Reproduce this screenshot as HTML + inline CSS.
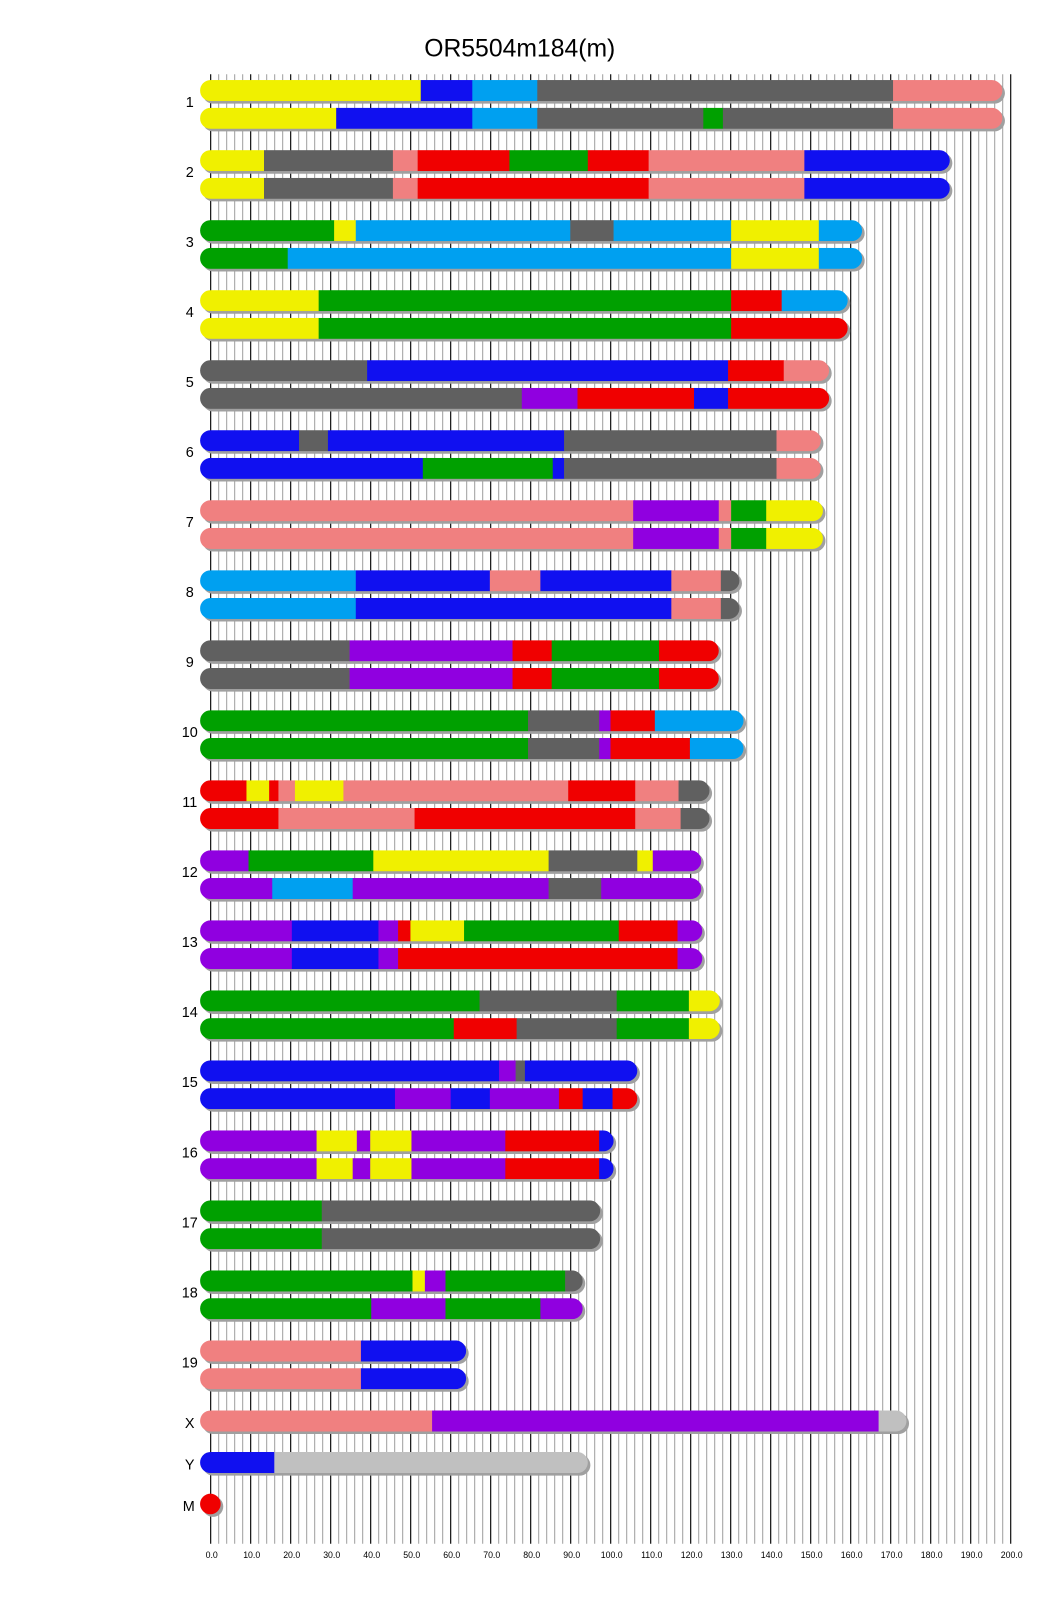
<!DOCTYPE html>
<html><head><meta charset="utf-8"><style>
html,body{margin:0;padding:0;background:#fff;}
svg{display:block;}
text{font-family:"Liberation Sans",sans-serif;}
</style></head><body>
<svg id="s" width="1040" height="1616" viewBox="0 0 1008.5 1567" xmlns="http://www.w3.org/2000/svg">
<rect width="1008.5" height="1567" fill="#fff"/>
<text x="504" y="55" font-size="24" text-anchor="middle" fill="#000">OR5504m184(m)</text>
<g id="grid"></g>
<g id="bars"></g>
</svg>
<script>
var NS="http://www.w3.org/2000/svg";
var C={Y:"#f0f000",B:"#1010f0",L:"#00a0f0",G:"#606060",S:"#f08080",N:"#00a000",R:"#f00000",P:"#9000e0",W:"#c0c0c0"};
function el(t,a,p){var e=document.createElementNS(NS,t);for(var k in a)e.setAttribute(k,a[k]);if(p)p.appendChild(e);return e;}
var grid=document.getElementById("grid"),bars=document.getElementById("bars"),svg=document.getElementById("s");
var x0=204.3,u=3.879;
for(var i=0;i<=100;i++){var x=x0+i*u*2;var major=i%5==0;
 el("line",{x1:x,x2:x,y1:72,y2:1497,stroke:major?"#000":"#a0a0a0","stroke-width":major?1.1:1},grid);
 if(major){var t=el("text",{x:x+1,y:1511,"font-size":8.5,"text-anchor":"middle",fill:"#000"},grid);t.textContent=(i*2).toFixed(1);}
}
var defs=el("defs",{},svg);
var data=[
["1",972,[["Y",408],["B",458],["L",521],["G",866],["S",972]],[["Y",326],["B",458],["L",521],["G",682],["N",701],["G",866],["S",972]]],
["2",921,[["Y",256],["G",381],["S",405],["R",494],["N",570],["R",629],["S",780],["B",921]],[["Y",256],["G",381],["S",405],["R",629],["S",780],["B",921]]],
["3",836,[["N",324],["Y",345],["L",553],["G",595],["L",709],["Y",794],["L",836]],[["N",279],["L",709],["Y",794],["L",836]]],
["4",822,[["Y",309],["N",709],["R",758],["L",822]],[["Y",309],["N",709],["R",822]]],
["5",804,[["G",356],["B",706],["R",760],["S",804]],[["G",506],["P",560],["R",673],["B",706],["R",804]]],
["6",796,[["B",290],["G",318],["B",547],["G",753],["S",796]],[["B",410],["N",536],["B",547],["G",753],["S",796]]],
["7",798,[["S",614],["P",697],["S",709],["N",743],["Y",798]],[["S",614],["P",697],["S",709],["N",743],["Y",798]]],
["8",717,[["L",345],["B",475],["S",524],["B",651],["S",699],["G",717]],[["L",345],["B",651],["S",699],["G",717]]],
["9",697,[["G",339],["P",497],["R",535],["N",639],["R",697]],[["G",339],["P",497],["R",535],["N",639],["R",697]]],
["10",721,[["N",512],["G",581],["P",592],["R",635],["L",721]],[["N",512],["G",581],["P",592],["R",669],["L",721]]],
["11",688,[["R",239],["Y",261],["R",270],["S",286],["Y",333],["S",551],["R",616],["S",658],["G",688]],[["R",270],["S",402],["R",616],["S",660],["G",688]]],
["12",680,[["P",241],["N",362],["Y",532],["G",618],["Y",633],["P",680]],[["P",264],["L",342],["P",532],["G",583],["P",680]]],
["13",681,[["P",283],["B",367],["P",386],["R",398],["Y",450],["N",600],["R",657],["P",681]],[["P",283],["B",367],["P",386],["R",657],["P",681]]],
["14",698,[["N",465],["G",598],["N",668],["Y",698]],[["N",440],["R",501],["G",598],["N",668],["Y",698]]],
["15",618,[["B",484],["P",500],["G",509],["B",618]],[["B",383],["P",437],["B",475],["P",542],["R",565],["B",594],["R",618]]],
["16",595,[["P",307],["Y",346],["P",359],["Y",399],["P",490],["R",581],["B",595]],[["P",307],["Y",342],["P",359],["Y",399],["P",490],["R",581],["B",595]]],
["17",582,[["N",312],["G",582]],[["N",312],["G",582]]],
["18",565,[["N",400],["Y",412],["P",432],["N",548],["G",565]],[["N",360],["P",432],["N",524],["P",565]]],
["19",452,[["S",350],["B",452]],[["S",350],["B",452]]],
["X",879,[["S",419],["P",852],["W",879]],null],
["Y",570,[["B",266],["W",570]],null]
];
var L=194,H=20.4,cid=0;
function bar(y,end,segs){
 el("rect",{x:L+2.5,y:y+2.5,width:end-L,height:H,rx:10.2,ry:10.2,fill:"#a0a0a0"},bars);
 var id="c"+(cid++);var cp=el("clipPath",{id:id},defs);
 el("rect",{x:L,y:y,width:end-L,height:H,rx:10.2,ry:10.2},cp);
 var g=el("g",{"clip-path":"url(#"+id+")"},bars);var s=L;
 segs.forEach(function(q){el("rect",{x:s,y:y,width:q[1]-s+0.3,height:H,fill:C[q[0]]},g);s=q[1];});
}
data.forEach(function(d,i){
 var y=77.6+67.9*i; if(d[0]=="Y")y=1408;
 bar(y,d[1],d[2]);
 var ly=y+H/2+2;
 if(d[3]){bar(y+26.9,d[1],d[3]);ly=y+21.1;}
 var t=el("text",{x:184,y:ly+5,"font-size":14,"text-anchor":"middle",fill:"#000"},bars);t.textContent=d[0];
});
el("circle",{cx:206.5,cy:1460.9,r:10,fill:"#a0a0a0"},bars);
el("circle",{cx:204,cy:1458.4,r:10,fill:"#f00000"},bars);
var t=el("text",{x:183,y:1465.4,"font-size":14,"text-anchor":"middle",fill:"#000"},bars);t.textContent="M";
</script>
</body></html>
